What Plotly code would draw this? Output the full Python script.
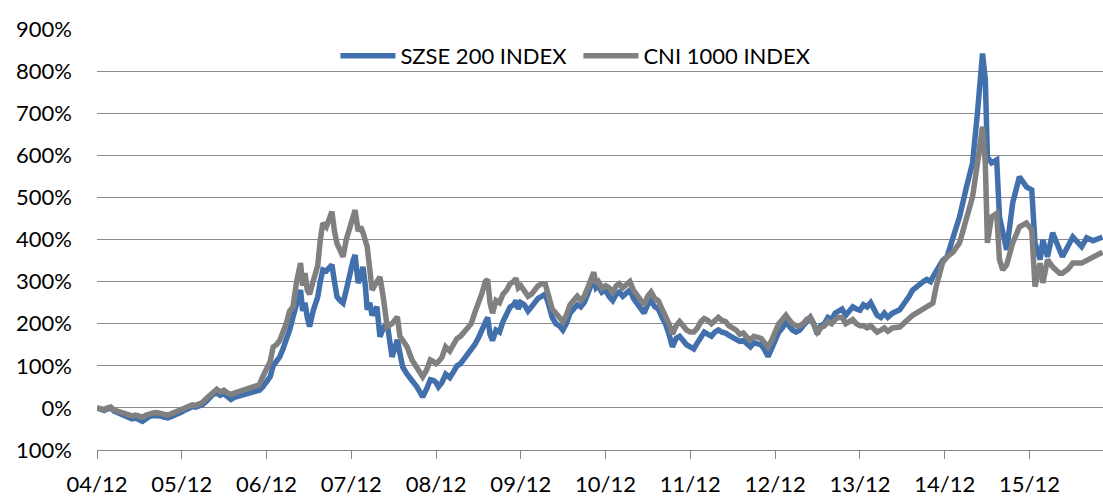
import plotly.graph_objects as go

# ---------------- data (cumulative return, %) ----------------
szse_dates = [
    "2004-12-31", "2005-01-15", "2005-01-31", "2005-02-15", "2005-02-28", "2005-03-15", "2005-03-31",
    "2005-04-15", "2005-04-30", "2005-05-15", "2005-05-31", "2005-06-15", "2005-06-30", "2005-07-15",
    "2005-07-31", "2005-08-15", "2005-08-31", "2005-09-15", "2005-09-30", "2005-10-15", "2005-10-31",
    "2005-11-15", "2005-11-30", "2005-12-15", "2005-12-31",
    "2006-01-15", "2006-01-31", "2006-02-15", "2006-02-28", "2006-03-15", "2006-03-31", "2006-04-15",
    "2006-04-30", "2006-05-15", "2006-05-31", "2006-06-15", "2006-06-30", "2006-07-15", "2006-07-31",
    "2006-08-15", "2006-08-31", "2006-09-15", "2006-09-30", "2006-10-15", "2006-10-31", "2006-11-15",
    "2006-11-30", "2006-12-15", "2006-12-31",
    "2007-01-16", "2007-01-29", "2007-02-12", "2007-02-26", "2007-03-12", "2007-03-26", "2007-04-10",
    "2007-04-24", "2007-05-10", "2007-05-27", "2007-06-05", "2007-06-15", "2007-06-25", "2007-07-05",
    "2007-07-20", "2007-08-09", "2007-08-20", "2007-08-31", "2007-09-15", "2007-09-30", "2007-10-09",
    "2007-10-20", "2007-10-31", "2007-11-13", "2007-11-26", "2007-12-10", "2007-12-25",
    "2008-01-08", "2008-01-17", "2008-01-30", "2008-02-10", "2008-02-20", "2008-03-01", "2008-03-09",
    "2008-03-20", "2008-03-30", "2008-04-20", "2008-05-03", "2008-05-18", "2008-06-03", "2008-06-24",
    "2008-07-10", "2008-07-17", "2008-07-28", "2008-08-09", "2008-08-28", "2008-09-18", "2008-10-09",
    "2008-10-25", "2008-11-03", "2008-11-20", "2008-12-06", "2008-12-20", "2008-12-31",
    "2009-01-10", "2009-01-25", "2009-02-10", "2009-02-28", "2009-03-15", "2009-03-31", "2009-04-15",
    "2009-04-30", "2009-05-15", "2009-05-31", "2009-06-15", "2009-06-30", "2009-07-15", "2009-07-31",
    "2009-08-10", "2009-08-20", "2009-08-31", "2009-09-15", "2009-09-30", "2009-10-15", "2009-10-31",
    "2009-11-15", "2009-11-30", "2009-12-10", "2009-12-20", "2009-12-31",
    "2010-01-15", "2010-01-31", "2010-02-15", "2010-02-28", "2010-03-15", "2010-03-31", "2010-04-15",
    "2010-04-30", "2010-05-15", "2010-05-31", "2010-06-15", "2010-06-30", "2010-07-15", "2010-07-31",
    "2010-08-15", "2010-08-31", "2010-09-15", "2010-09-30", "2010-10-15", "2010-10-31", "2010-11-10",
    "2010-11-20", "2010-11-30", "2010-12-15", "2010-12-31",
    "2011-01-15", "2011-01-31", "2011-02-15", "2011-02-28", "2011-03-15", "2011-03-31", "2011-04-15",
    "2011-04-30", "2011-05-15", "2011-05-31", "2011-06-15", "2011-06-30", "2011-07-15", "2011-07-31",
    "2011-08-15", "2011-08-31", "2011-09-15", "2011-09-30", "2011-10-15", "2011-10-31", "2011-11-15",
    "2011-11-30", "2011-12-15", "2011-12-31",
    "2012-01-15", "2012-01-31", "2012-02-15", "2012-02-29", "2012-03-15", "2012-03-31", "2012-04-15",
    "2012-04-30", "2012-05-15", "2012-05-31", "2012-06-15", "2012-06-30", "2012-07-15", "2012-07-31",
    "2012-08-15", "2012-08-31", "2012-09-15", "2012-09-30", "2012-10-15", "2012-10-31", "2012-11-15",
    "2012-11-30", "2012-12-15", "2012-12-31",
    "2013-01-15", "2013-01-31", "2013-02-15", "2013-02-28", "2013-03-15", "2013-03-31", "2013-04-15",
    "2013-04-30", "2013-05-15", "2013-05-31", "2013-06-15", "2013-06-30", "2013-07-15", "2013-07-31",
    "2013-08-15", "2013-08-31", "2013-09-15", "2013-09-30", "2013-10-15", "2013-10-31", "2013-11-15",
    "2013-11-30", "2013-12-15", "2013-12-31",
    "2014-01-15", "2014-01-31", "2014-02-15", "2014-02-28", "2014-03-15", "2014-03-31", "2014-04-15",
    "2014-04-30", "2014-05-20", "2014-06-20", "2014-07-15", "2014-07-31", "2014-08-15", "2014-08-31",
    "2014-09-15", "2014-09-30", "2014-10-15", "2014-10-31", "2014-11-10", "2014-11-25", "2014-12-10",
    "2014-12-22", "2015-01-10", "2015-02-05", "2015-03-05", "2015-04-04", "2015-04-30", "2015-05-21",
    "2015-06-12", "2015-06-24", "2015-07-03", "2015-07-21", "2015-08-12", "2015-08-24", "2015-09-07",
    "2015-09-24", "2015-10-20", "2015-11-18", "2015-12-18", "2016-01-10", "2016-01-24", "2016-02-15",
    "2016-02-27", "2016-03-18", "2016-04-09", "2016-05-09", "2016-05-21", "2016-06-15", "2016-07-05",
    "2016-08-12", "2016-09-03", "2016-09-30", "2016-10-20", "2016-11-10",
]
szse_values = [
    0, -3, -6, -2, 0, -8, -12,
    -14, -18, -22, -26, -24, -28, -32,
    -26, -20, -18, -17, -19, -22, -24,
    -21, -18, -14, -10,
    -5, 0, 3, 2, 5, 8, 15,
    22, 32, 35, 30, 34, 28, 20,
    25, 28, 30, 33, 36, 38, 40,
    42, 50, 60,
    74, 100, 110, 121, 140, 160, 185,
    215, 249, 280, 230, 250, 215, 193,
    230, 264, 300, 328, 325, 335, 340,
    300, 264, 255, 249, 280, 320,
    350, 363, 297, 310, 335, 290, 233,
    250, 220, 240, 169, 190, 202, 121,
    150, 162, 130, 97, 80, 67, 50,
    35, 26, 45, 67, 65, 60,
    50, 60, 80, 72, 85, 100, 105,
    115, 125, 135, 150, 165, 185, 210,
    215, 175, 160, 185, 180, 205, 220,
    240, 245, 255, 235, 250,
    245, 230, 240, 250, 260, 265, 270,
    245, 215, 200, 195, 185, 200, 225,
    235, 245, 240, 250, 270, 290, 310,
    285, 290, 275, 280,
    265, 255, 270, 275, 265, 275, 280,
    260, 250, 240, 225, 245, 255, 240,
    235, 215, 200, 175, 145, 165, 170,
    160, 150, 145,
    140, 155, 170, 180, 175, 170, 180,
    185, 180, 178, 172, 168, 165, 158,
    160, 150, 145, 155, 152, 150, 138,
    122, 140, 165,
    180, 190, 205, 195, 185, 180, 185,
    195, 205, 215, 200, 175, 195, 200,
    215, 210, 225, 230, 235, 220, 230,
    240, 235, 232,
    245, 240, 250, 235, 220, 215, 225,
    215, 225, 233, 250, 265, 280, 288,
    292, 300, 305, 300, 311, 325, 340,
    350, 359, 400, 454, 525, 582, 700,
    842, 779, 596, 582, 589, 454, 416,
    375, 487, 549, 525, 518, 392, 352,
    399, 359, 416, 375, 359, 385, 406,
    383, 404, 397, 400, 406,
]

cni_dates = list(szse_dates)
cni_values = [
    0, -2, -4, 0, 2, -5, -8,
    -10, -13, -16, -19, -17, -20, -22,
    -17, -13, -12, -11, -13, -15, -17,
    -14, -11, -8, -4,
    0, 4, 7, 6, 10, 13, 22,
    30, 40, 44, 38, 42, 36, 32,
    35, 38, 42, 45, 47, 50, 55,
    55, 74, 90,
    110, 145, 150, 160, 178, 200, 230,
    240, 300, 344, 290, 320, 280, 270,
    300, 338, 400, 439, 430, 450, 466,
    420, 390, 375, 359, 400, 430,
    450, 470, 420, 430, 416, 395, 383,
    330, 280, 300, 311, 260, 193, 200,
    210, 216, 170, 160, 145, 114, 95,
    80, 74, 90, 114, 110, 105,
    110, 120, 145, 135, 150, 165, 170,
    180, 190, 200, 225, 245, 270, 300,
    305, 250, 225, 255, 250, 270, 280,
    295, 300, 308, 285, 290,
    280, 265, 270, 280, 290, 295, 295,
    265, 235, 225, 215, 205, 220, 245,
    255, 265, 255, 265, 285, 305, 322,
    295, 300, 285, 290,
    285, 275, 290, 295, 285, 295, 300,
    280, 270, 260, 245, 265, 275, 260,
    255, 235, 220, 200, 175, 195, 205,
    195, 185, 180,
    180, 190, 205, 212, 208, 200, 210,
    215, 208, 205, 195, 190, 185, 175,
    178, 168, 162, 170, 168, 165, 155,
    145, 160, 185,
    200, 210, 220, 210, 200, 195, 195,
    200, 210, 215, 200, 180, 190, 195,
    205, 200, 210, 215, 215, 200, 205,
    210, 200, 195,
    195, 190, 195, 188, 180, 185, 190,
    182, 190, 192, 205, 215, 220, 225,
    230, 235, 240, 245, 249, 290, 328,
    345, 359, 370, 392, 454, 501, 581,
    668, 581, 392, 454, 462, 352, 328,
    340, 392, 430, 439, 423, 288, 344,
    297, 352, 335, 320, 320, 330, 344,
    344, 350, 359, 362, 370,
]

series_names = ["SZSE 200 INDEX", "CNI 1000 INDEX"]
series_colors = ["#4170AC", "#808080"]

y_tickvals = [-100, 0, 100, 200, 300, 400, 500, 600, 700, 800, 900]
y_ticktext = ["100%", "0%", "100%", "200%", "300%", "400%", "500%", "600%", "700%", "800%", "900%"]
x_tickvals = ["2004-12-31", "2005-12-31", "2006-12-31", "2007-12-31", "2008-12-31", "2009-12-31",
              "2010-12-31", "2011-12-31", "2012-12-31", "2013-12-31", "2014-12-31", "2015-12-31"]
x_ticktext = ["04/12", "05/12", "06/12", "07/12", "08/12", "09/12",
              "10/12", "11/12", "12/12", "13/12", "14/12", "15/12"]

FONT = "Lato"
FS = 22
fig = go.Figure()
for name, dates, vals, col in [
    (series_names[0], szse_dates, szse_values, series_colors[0]),
    (series_names[1], cni_dates, cni_values, series_colors[1]),
]:
    fig.add_trace(go.Scatter(x=dates, y=vals, mode="lines", name=name,
                             line=dict(color=col, width=5.5)))

fig.update_layout(
    width=1103, height=497,
    margin=dict(l=97, r=0, t=29, b=47, autoexpand=False),
    paper_bgcolor="white", plot_bgcolor="white",
    font=dict(family=FONT, size=FS, color="black"),
    showlegend=True,
    legend=dict(orientation="h", x=0.237, xanchor="left", y=0.936, yanchor="middle",
                bgcolor="rgba(0,0,0,0)", font=dict(family=FONT, size=FS, color="black"),
                itemwidth=55, entrywidth=173, traceorder="normal"),
    xaxis=dict(type="date", range=["2004-12-31", "2016-11-12"], automargin=False,
               tickmode="array", tickvals=x_tickvals, ticktext=x_ticktext,
               showgrid=False, zeroline=False, showline=True, linecolor="#868686", linewidth=1.3,
               ticks="outside", ticklen=8, tickwidth=1.3, tickcolor="#868686",
               ticklabelstandoff=6, tickfont=dict(family=FONT, size=FS, color="black")),
    yaxis=dict(range=[-100, 900], automargin=False, tickmode="array",
               tickvals=y_tickvals, ticktext=y_ticktext,
               showgrid=True, gridcolor="#8A8A8A", gridwidth=1.3, zeroline=False,
               showline=False, ticks="", ticklabelstandoff=24,
               tickfont=dict(family=FONT, size=FS, color="black")),
)

fig.write_html("out.html", config={"displayModeBar": False},
               post_script="document.body.style.margin='0px';")
